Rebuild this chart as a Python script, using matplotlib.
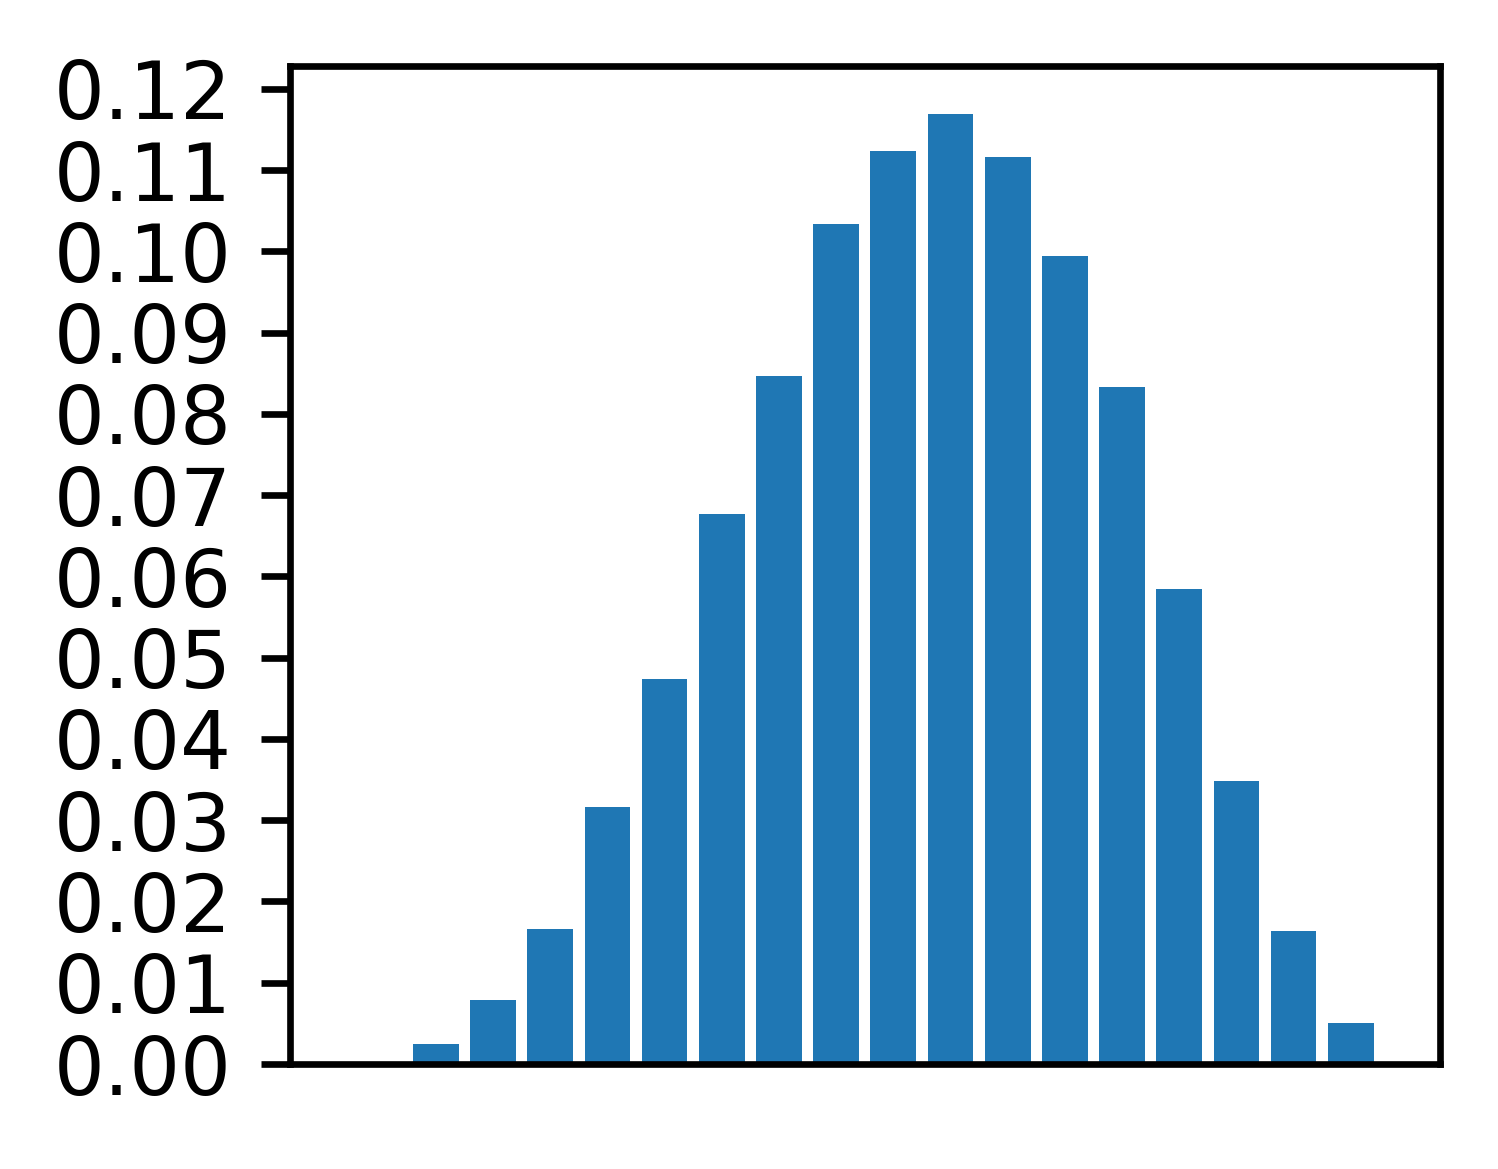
import matplotlib
matplotlib.use("Agg")
import matplotlib.pyplot as plt

positions = list(range(20))
values = [0.0, 0.0001, 0.0024, 0.0079, 0.0166, 0.0316, 0.0474, 0.0677, 0.0846, 0.1033,
          0.1124, 0.1169, 0.1116, 0.0994, 0.0833, 0.0585, 0.0348, 0.0164, 0.0051, 0.0003]
yticks = [0.00, 0.01, 0.02, 0.03, 0.04, 0.05, 0.06, 0.07, 0.08, 0.09, 0.10, 0.11, 0.12]

fig = plt.figure(figsize=(1498 / 600, 1169 / 600), dpi=600)
ax = fig.add_axes([290 / 1498, 1 - 1064 / 1169, (1440 - 290) / 1498, (1064 - 66) / 1169])
ax.bar(positions, values, width=0.8, color="#1f77b4")
ax.set_xlim(-0.55, 19.56)
ax.set_ylim(0, 0.1228)
ax.set_xticks([])
ax.set_yticks(yticks)
ax.set_yticklabels([f"{v:.2f}" for v in yticks])
ax.tick_params(axis="y", labelsize=9.6)
fig.savefig("out.png", dpi=600)
